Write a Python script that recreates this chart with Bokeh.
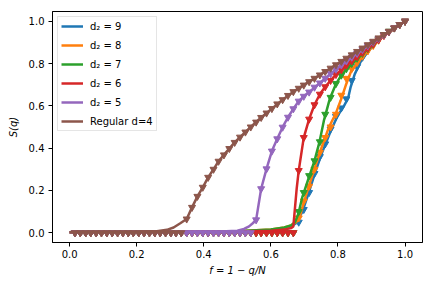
from bokeh.plotting import figure
from bokeh.models import Range1d, FixedTicker
from bokeh.embed import file_html
from bokeh.resources import INLINE

# ---------------- data ----------------
x_ticks = [0.0, 0.2, 0.4, 0.6, 0.8, 1.0]
x_tick_labels = ["0.0", "0.2", "0.4", "0.6", "0.8", "1.0"]
y_ticks = [0.0, 0.2, 0.4, 0.6, 0.8, 1.0]
y_tick_labels = ["0.0", "0.2", "0.4", "0.6", "0.8", "1.0"]

labels = ["d\u2082 = 9", "d\u2082 = 8", "d\u2082 = 7", "d\u2082 = 6", "d\u2082 = 5", "Regular d=4"]
colors = ["#1f77b4", "#ff7f0e", "#2ca02c", "#d62728", "#9467bd", "#8c564b"]

# simulation points (markers), f = 1 - q/N
f_marks = [0.016, 0.032, 0.048, 0.063, 0.079, 0.095, 0.111, 0.127, 0.143, 0.159,
           0.175, 0.190, 0.206, 0.222, 0.238, 0.254, 0.270, 0.286, 0.302, 0.317,
           0.333, 0.349, 0.365, 0.381, 0.397, 0.413, 0.429, 0.444, 0.460, 0.476,
           0.492, 0.508, 0.524, 0.540, 0.556, 0.571, 0.587, 0.603, 0.619, 0.635,
           0.651, 0.667, 0.683, 0.698, 0.714, 0.730, 0.746, 0.762, 0.778, 0.794,
           0.810, 0.825, 0.841, 0.857, 0.873, 0.889, 0.905, 0.921, 0.937, 0.952,
           0.968, 0.984, 1.000]

s9_marks = [0.0] * 42 + [0.05, 0.11, 0.19, 0.28, 0.36, 0.42, 0.49, 0.55, 0.59, 0.633,
                         0.72, 0.785, 0.83, 0.862, 0.888, 0.912, 0.937, 0.952, 0.968, 0.984, 1.0]
s8_marks = [0.0] * 42 + [0.07, 0.15, 0.22, 0.30, 0.38, 0.45, 0.50, 0.56, 0.65, 0.73,
                         0.775, 0.805, 0.835, 0.86, 0.885, 0.91, 0.935, 0.952, 0.968, 0.984, 1.0]
s7_marks = [0.0] * 42 + [0.10, 0.19, 0.27, 0.34, 0.43, 0.56, 0.64, 0.705, 0.745, 0.775,
                         0.80, 0.825, 0.848, 0.87, 0.892, 0.915, 0.936, 0.952, 0.968, 0.984, 1.0]
s6_marks = [0.0] * 42 + [0.294, 0.45, 0.537, 0.605, 0.655, 0.69, 0.72, 0.748, 0.77, 0.792,
                         0.812, 0.832, 0.852, 0.872, 0.892, 0.912, 0.932, 0.951, 0.968, 0.984, 1.0]
s5_marks = [0.0] * 34 + [0.061, 0.208, 0.302, 0.386, 0.444, 0.499, 0.546, 0.586, 0.622, 0.645,
                         0.665, 0.688, 0.708, 0.73, 0.752, 0.773, 0.793, 0.812, 0.83, 0.848,
                         0.866, 0.884, 0.901, 0.918, 0.935, 0.951, 0.968, 0.984, 1.0]
s4_marks = [0.0] * 21 + [0.065, 0.120, 0.172, 0.215, 0.262, 0.300, 0.338, 0.368, 0.398, 0.427,
                         0.452, 0.476, 0.500, 0.523, 0.545, 0.566, 0.587, 0.609, 0.629, 0.649,
                         0.667, 0.683, 0.698, 0.714, 0.730, 0.746, 0.762, 0.778, 0.794, 0.810,
                         0.825, 0.841, 0.857, 0.873, 0.889, 0.905, 0.921, 0.937, 0.952, 0.968,
                         0.984, 1.000]

# theory curves (lines)
s9_line_x = [0.0, 0.3, 0.5, 0.6, 0.64, 0.66, 0.675, 0.694, 0.713, 0.733, 0.753, 0.778, 0.798,
             0.818, 0.83, 0.838, 0.85, 0.868, 0.893, 0.922, 0.96, 1.0]
s9_line_y = [0.003, 0.004, 0.006, 0.012, 0.02, 0.03, 0.045, 0.10, 0.19, 0.29, 0.38, 0.48, 0.55,
             0.60, 0.635, 0.69, 0.75, 0.81, 0.865, 0.915, 0.958, 1.0]
s8_line_x = [0.0, 0.3, 0.5, 0.6, 0.64, 0.66, 0.675, 0.684, 0.703, 0.728, 0.748, 0.773, 0.793,
             0.808, 0.823, 0.838, 0.863, 0.898, 0.93, 1.0]
s8_line_y = [0.003, 0.004, 0.007, 0.015, 0.025, 0.035, 0.05, 0.066, 0.168, 0.294, 0.389, 0.499,
             0.562, 0.625, 0.696, 0.759, 0.814, 0.877, 0.925, 1.0]
s7_line_x = [0.0, 0.3, 0.5, 0.6, 0.64, 0.66, 0.672, 0.682, 0.694, 0.713, 0.73, 0.745, 0.758,
             0.776, 0.793, 0.81, 0.83, 0.855, 0.88, 0.93, 1.0]
s7_line_y = [0.003, 0.004, 0.007, 0.015, 0.025, 0.035, 0.05, 0.09, 0.17, 0.26, 0.34, 0.43, 0.53,
             0.635, 0.70, 0.745, 0.78, 0.82, 0.855, 0.925, 1.0]
s6_line_x = [0.0, 0.3, 0.5, 0.6, 0.64, 0.66, 0.667, 0.672, 0.677, 0.683, 0.698, 0.714, 0.730,
             0.746, 0.762, 0.778, 0.794, 0.810, 0.825, 0.857, 0.889, 0.937, 1.0]
s6_line_y = [0.003, 0.004, 0.006, 0.01, 0.015, 0.022, 0.03, 0.12, 0.21, 0.294, 0.45, 0.537, 0.605,
             0.655, 0.69, 0.72, 0.748, 0.77, 0.792, 0.832, 0.872, 0.932, 1.0]
s5_line_x = [0.0, 0.3, 0.45, 0.5, 0.52, 0.535, 0.546, 0.556, 0.571, 0.587, 0.603, 0.619, 0.635,
             0.651, 0.667, 0.683, 0.698, 0.714, 0.746, 0.778, 0.810, 0.857, 0.905, 0.952, 1.0]
s5_line_y = [0.003, 0.004, 0.006, 0.01, 0.018, 0.03, 0.045, 0.061, 0.208, 0.302, 0.386, 0.444,
             0.499, 0.546, 0.586, 0.622, 0.645, 0.665, 0.708, 0.752, 0.793, 0.848, 0.901, 0.951, 1.0]
s4_line_x = [0.0, 0.2, 0.26, 0.29, 0.31, 0.33, 0.349, 0.365, 0.381, 0.397, 0.413, 0.429, 0.444,
             0.460, 0.476, 0.492, 0.508, 0.540, 0.571, 0.603, 0.635, 0.667, 0.698, 1.0]
s4_line_y = [0.003, 0.004, 0.007, 0.014, 0.025, 0.045, 0.065, 0.12, 0.172, 0.215, 0.262, 0.300,
             0.338, 0.368, 0.398, 0.427, 0.452, 0.500, 0.545, 0.587, 0.629, 0.667, 0.698, 1.0]

series = [
    (s9_line_x, s9_line_y, s9_marks),
    (s8_line_x, s8_line_y, s8_marks),
    (s7_line_x, s7_line_y, s7_marks),
    (s6_line_x, s6_line_y, s6_marks),
    (s5_line_x, s5_line_y, s5_marks),
    (s4_line_x, s4_line_y, s4_marks),
]

# ---------------- figure ----------------
FONT = "DejaVu Sans"
p = figure(frame_width=370, frame_height=231, output_backend="svg", toolbar_location=None,
           x_range=Range1d(-0.051, 1.052), y_range=Range1d(-0.046, 1.046))
p.min_border_left = 52
p.min_border_right = 2
p.min_border_top = 11
p.min_border_bottom = 36
p.background_fill_color = "white"
p.border_fill_color = "white"
p.outline_line_color = "black"
p.outline_line_width = 1
p.grid.visible = False

for (lx, ly, my), lab, c in zip(series, labels, colors):
    p.line(lx, ly, color=c, line_width=2.5, legend_label=lab)
    p.scatter(f_marks, my, marker="inverted_triangle", size=7, color=c)

for ax, ticks, tl in ((p.xaxis, x_ticks, x_tick_labels), (p.yaxis, y_ticks, y_tick_labels)):
    ax.ticker = FixedTicker(ticks=ticks)
    ax.major_label_overrides = dict(zip(ticks, tl))
    ax.axis_line_color = "black"
    ax.axis_line_width = 1
    ax.major_tick_line_color = "black"
    ax.major_tick_line_width = 1
    ax.major_tick_in = 0
    ax.major_tick_out = 4
    ax.minor_tick_line_color = None
    ax.major_label_text_font = FONT
    ax.major_label_text_font_size = "10px"
    ax.major_label_text_color = "black"
    ax.axis_label_text_font = FONT
    ax.axis_label_text_font_size = "10px"
    ax.axis_label_text_font_style = "italic"
    ax.axis_label_text_color = "black"

p.xaxis.axis_label = "f = 1 \u2212 q/N"
p.yaxis.axis_label = "S(q)"
p.xaxis.major_label_standoff = 3
p.yaxis.major_label_standoff = 4
p.xaxis.axis_label_standoff = 4
p.yaxis.axis_label_standoff = 7

lg = p.legend[0]
lg.location = "top_left"
lg.margin = 5
lg.padding = 3
lg.spacing = 7
lg.label_height = 12
lg.glyph_height = 12
lg.glyph_width = 22
lg.label_standoff = 7
lg.border_line_color = "#cccccc"
lg.border_line_width = 1
lg.background_fill_color = "white"
lg.background_fill_alpha = 0.8
lg.label_text_font = FONT
lg.label_text_font_size = "10px"
lg.label_text_color = "black"

open("out.html", "w").write(file_html(p, INLINE))
